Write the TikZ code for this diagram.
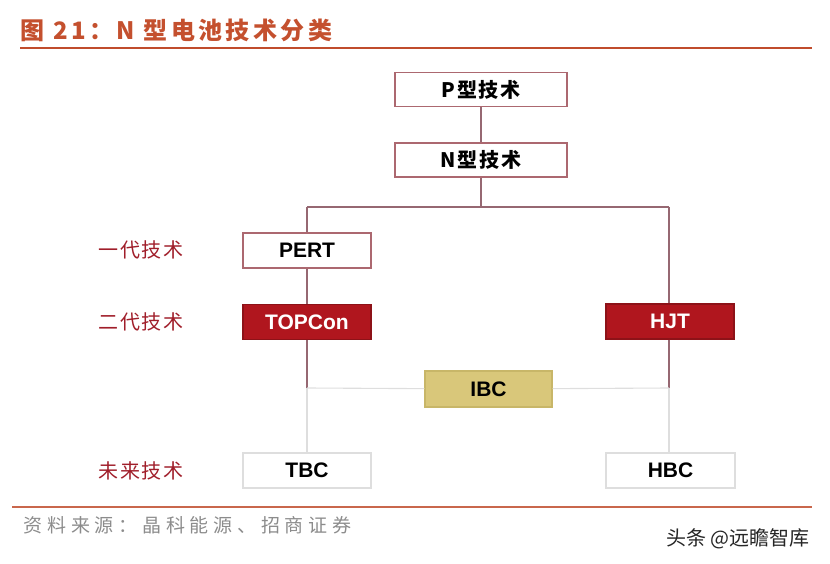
\documentclass[tikz,border=0pt]{standalone}
\usepackage{fontspec}
\setmainfont{Liberation Sans}
\newfontfamily\cjk{Noto Sans CJK SC}
\newfontfamily\cjkwide[LetterSpace=8]{Noto Sans CJK SC}
\newfontfamily\cjktitle[LetterSpace=14]{Noto Sans CJK SC}
\newfontfamily\cjksrc[LetterSpace=25]{Noto Sans CJK SC}
\usetikzlibrary{positioning, calc}

\definecolor{titlered}{RGB}{196,80,46}
\definecolor{rulered}{RGB}{192,76,44}
\definecolor{boxline}{RGB}{172,104,112}
\definecolor{linkline}{RGB}{150,104,114}
\definecolor{techred}{RGB}{176,22,30}
\definecolor{ibcfill}{RGB}{217,199,122}
\definecolor{ibcline}{RGB}{200,182,104}
\definecolor{palegray}{RGB}{222,222,222}
\definecolor{genred}{RGB}{160,30,42}

\begin{document}
\begin{tikzpicture}[
    x=1pt, y=-1pt,
    box/.style={rectangle, draw=boxline, line width=1.1pt, fill=white, minimum width=128pt, minimum height=35pt, inner sep=0pt, font=\fontsize{21}{24}\selectfont\bfseries},
    topbox/.style={box, minimum width=172pt, minimum height=34pt, font=\fontsize{20}{24}\selectfont\cjkwide\bfseries},
    redbox/.style={box, draw=techred!80!black, fill=techred, text=white},
    futurebox/.style={box, draw=palegray},
    link/.style={draw=linkline, line width=1.1pt},
    pale/.style={draw=palegray, line width=1.1pt},
    gen/.style={font=\fontsize{20}{22}\selectfont\cjkwide, text=genred, anchor=west}
]
    \useasboundingbox (0,0) rectangle (830,564);

    % heading and rules
    \node[font=\fontsize{24}{28}\selectfont\cjktitle\bfseries, text=titlered, anchor=west] (title) at (17,30) {图 21：N 型电池技术分类};
    \draw[rulered, line width=2.4pt] (20,48) -- (812,48);
    \draw[rulered!85, line width=2.4pt] (12,507) -- (812,507);

    % boxes
    \node[topbox] (ptype) at (481,89.5) {P型技术};
    \node[topbox] (ntype) at (481,160) {N型技术};
    \node[box] (pert) at (307,250.5) {PERT};
    \node[redbox] (topcon) at (307,322) {TOPCon};
    \node[redbox] (hjt) at (670,321.5) {HJT};
    \node[box, draw=ibcline, fill=ibcfill, minimum width=127pt, minimum height=36pt] (ibc) at (488.5,389) {IBC};
    \node[futurebox] (tbc) at (307,470.5) {TBC};
    \node[futurebox, minimum width=129pt] (hbc) at (670.5,470.5) {HBC};

    % generation labels
    \node[gen] (gen1) at (95,250) {一代技术};
    \node[gen] (gen2) at (95,322) {二代技术};
    \node[gen] (gen3) at (95,471) {未来技术};

    % junctions
    \coordinate (split) at (481,207);
    \coordinate (jl) at (307,207);
    \coordinate (jr) at (669,207);
    \coordinate (ml) at (307,388);
    \coordinate (mr) at (669,388);

    % connectors
    \draw[link] (ptype) -- (ntype);
    \draw[link] (ntype) -- (split);
    \draw[link] (jl) -- (jr);
    \draw[link] (jl) -- (pert);
    \draw[link] (pert) -- (topcon);
    \draw[link] (jr) -- (jr |- hjt.north);
    \draw[link] (topcon) -- (ml);
    \draw[link] (hjt.south -| mr) -- (mr);
    \draw[pale] (ml) -- (ibc);
    \draw[pale] (ibc) -- (mr);
    \draw[pale] (ml) -- (tbc);
    \draw[pale] (mr) -- (mr |- hbc.north);

    % source and watermark
    \node[font=\fontsize{19}{22}\selectfont\cjksrc, text=black!45, anchor=west] (source) at (20,525) {资料来源：晶科能源、招商证券};
    \node[font=\fontsize{20}{22}\selectfont\cjk, text=black!85, anchor=east] (mark) at (813,539) {头条 @远瞻智库};
\end{tikzpicture}
\end{document}
